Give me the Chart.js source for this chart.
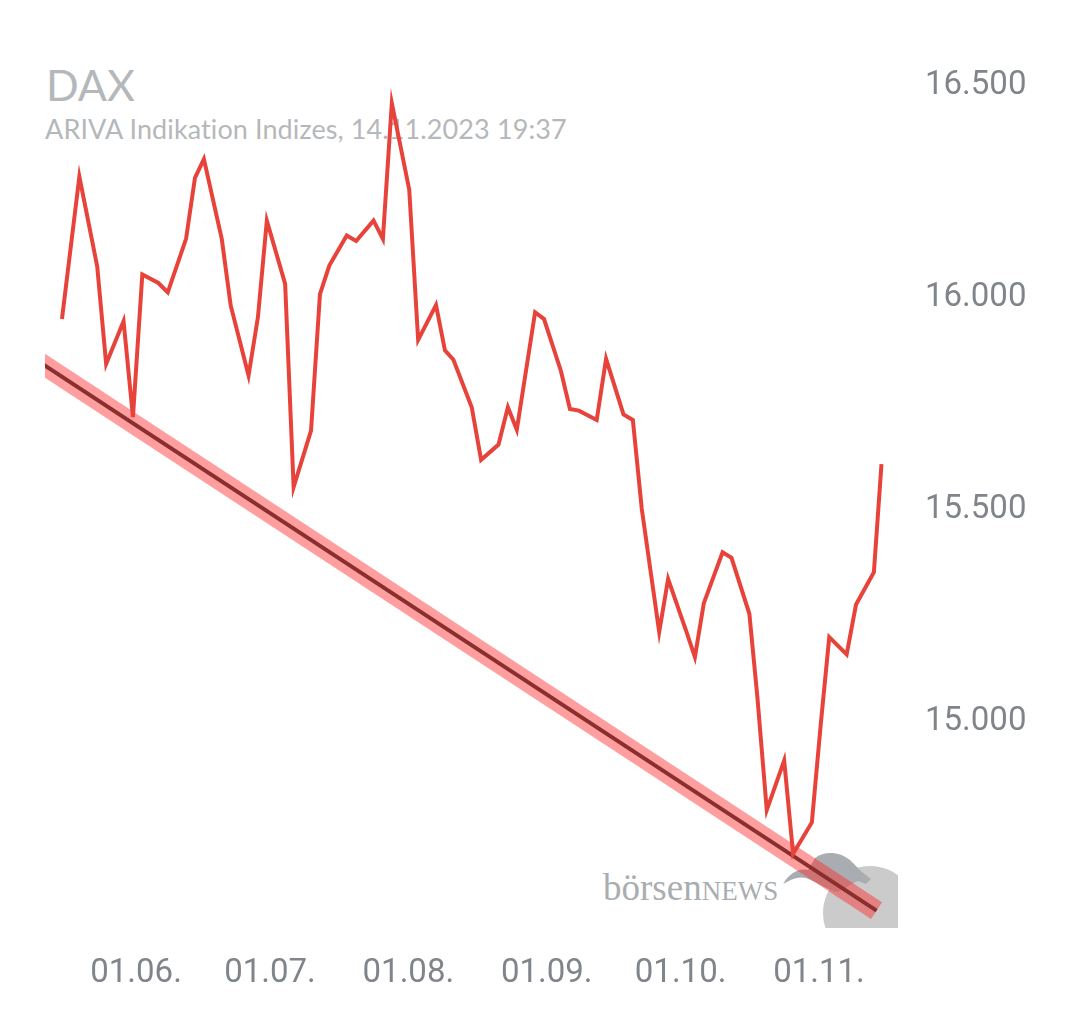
<!DOCTYPE html>
<html>
<head>
<meta charset="utf-8">
<script src="https://cdn.jsdelivr.net/npm/chart.js@4.4.1/dist/chart.umd.min.js"></script>
<style>
  html, body { margin:0; padding:0; background:#fff; }
  #wrap { position:relative; width:1080px; height:1013px; }
  #wrap canvas { position:absolute; left:0; top:0; }
  .title { position:absolute; left:46px; top:63px; font:43px/43px Lato, sans-serif; color:#b5b8bb; }
  .sub { position:absolute; left:45px; top:115px; font:27px/27px Lato, sans-serif; letter-spacing:0.1px; color:#b5b8bb; white-space:nowrap; }
  #logoClip { position:absolute; left:0; top:0; width:898px; height:928px; overflow:hidden; }
  .circle { position:absolute; left:823px; top:866px; width:94px; height:94px; border-radius:50%; background:#cbcbcb; }
  .brand { position:absolute; left:603px; top:869px; font:37px/37px "Liberation Serif", serif; color:#a9adb1; white-space:nowrap; }
  .brand span { font-size:27px; }
</style>
</head>
<body>
<div id="wrap">
  <div id="logoClip">
    <div class="circle"></div>
    <svg width="898" height="928" style="position:absolute;left:0;top:0">
      <path d="M783 884 C790 872 800 868 808 870 L815 858 C825 850 840 852 850 860 L862 872 L871 879 L866 884 L858 881 L850 885 L842 890 L836 892 L826 888 L815 882 L806 878 C798 876 790 880 783 884 Z" fill="#a9adb1"/>
    </svg>
    <div class="brand">börsen<span>NEWS</span></div>
  </div>
  <div class="title">DAX</div>
  <div class="sub">ARIVA Indikation Indizes, 14.11.2023 19:37</div>
  <canvas id="daxChart" width="1080" height="1013"></canvas>
</div>
<script>
// days counted from 01.06.2023
const days = [-16.6,-12.7,-8.7,-6.7,-2.8,-0.7,1.4,5.0,7.1,11.2,13.2,15.2,19.2,21.2,25.2,27.3,29.3,33.4,35.3,39.2,41.2,43.3,47.2,49.3,53.2,55.3,57.3,61.2,63.2,67.2,69.2,71.1,75.2,77.3,81.2,83.3,85.3,89.4,91.4,95.2,97.2,99.2,103.2,105.3,109.2,111.3,113.3,117.2,119.2,123.2,125.2,127.2,131.4,133.4,137.4,139.2,141.3,145.2,147.2,151.4,153.4,155.3,159.2,161.3,165.3,167.0];
const closes = [15950,16286,16074,15844,15945,15719,16055,16035,16013,16139,16283,16327,16139,15982,15817,15954,16182,16033,15554,15687,16009,16076,16147,16134,16182,16139,16459,16255,15901,15983,15876,15854,15742,15618,15654,15742,15689,15966,15950,15827,15738,15734,15712,15856,15725,15712,15502,15212,15337,15216,15153,15280,15400,15387,15255,15058,14792,14909,14689,14763,14995,15200,15159,15277,15353,15608];

const trendDays = [-22, 165.9];
const trendValues = [15851, 14555];

const monthTicks = [0, 30, 61, 92, 122, 153];
const monthLabels = ['01.06.', '01.07.', '01.08.', '01.09.', '01.10.', '01.11.'];
const yTicks = [15000, 15500, 16000, 16500];

function fmt(v){
  return String(v).replace(/\B(?=(\d{3})+(?!\d))/g, '.');
}

const pts = days.map((d,i)=>({x:d, y:closes[i]}));
const trend = trendDays.map((d,i)=>({x:d, y:trendValues[i]}));

new Chart(document.getElementById('daxChart'), {
  type:'line',
  data:{
    datasets:[
      { data:pts, borderColor:'#e8433a', borderWidth:4, pointRadius:0, tension:0, borderJoinStyle:'miter', order:1 },
      { data:trend, borderColor:'rgba(255,40,40,0.45)', borderWidth:20, pointRadius:0, borderCapStyle:'butt', order:3 },
      { data:trend, borderColor:'#8a2e2e', borderWidth:4, pointRadius:0, order:2 }
    ]
  },
  options:{
    responsive:false,
    animation:false,
    layout:{ padding:{ top:40, left:45, right:0, bottom:0 } },
    plugins:{ legend:{ display:false }, tooltip:{ enabled:false } },
    scales:{
      x:{
        type:'linear', min:-20.4, max:170.7,
        grid:{ display:false, drawTicks:false }, border:{ display:false },
        afterBuildTicks: s => { s.ticks = monthTicks.map(v=>({value:v})); },
        afterFit: s => { s.height = 85; },
        ticks:{ autoSkip:false, maxRotation:0, padding:26, color:'#80858b',
          font:{ family:'Roboto', size:33 },
          callback:(v,i)=>monthLabels[i] }
      },
      y:{
        position:'right', min:14514, max:16592,
        grid:{ display:false, drawTicks:false }, border:{ display:false },
        afterBuildTicks: s => { s.ticks = yTicks.map(v=>({value:v})); },
        afterFit: s => { s.width = 182; },
        ticks:{ padding:27, color:'#80858b', font:{ family:'Roboto', size:33 },
          callback:v=>fmt(v) }
      }
    }
  }
});
</script>
</body>
</html>
